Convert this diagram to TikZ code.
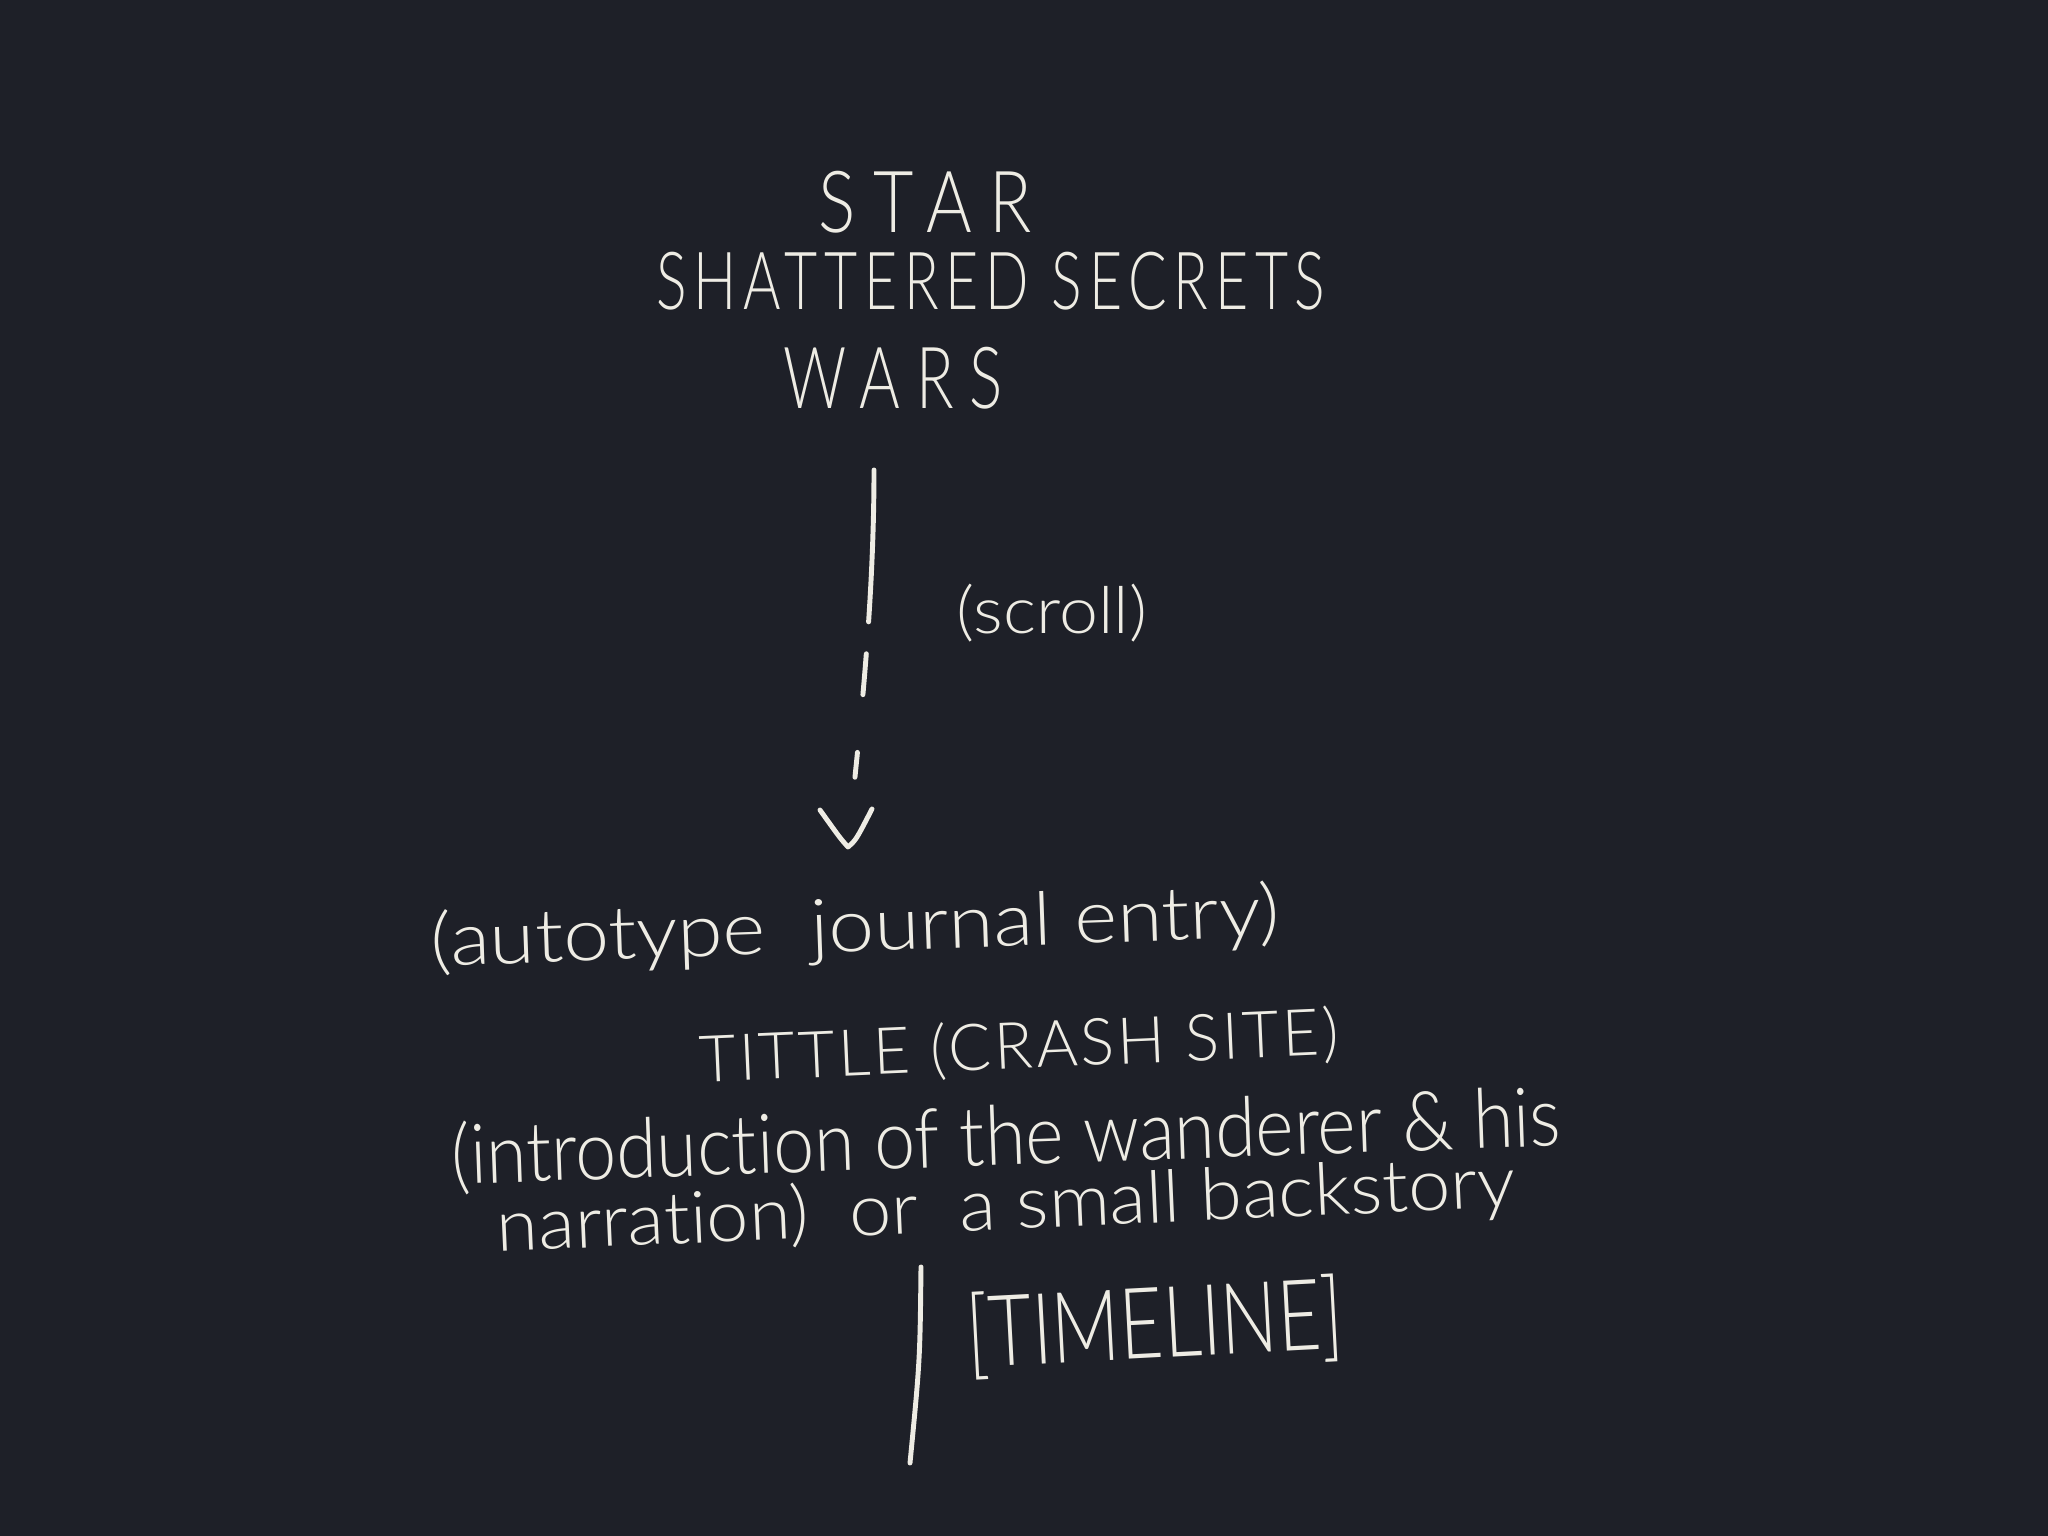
\documentclass[tikz,border=0pt]{standalone}
\usepackage{fontspec}
\setmainfont{Lato}[UprightFont=* Light, Ligatures=NoCommon]
\usepackage{graphicx}
\definecolor{bg}{RGB}{30,32,40}
\definecolor{ink}{RGB}{238,236,228}
\tikzset{
  hand/.style={text=ink, inner sep=0pt, anchor=center},
  pen/.style={draw=ink, line width=1.4pt, line cap=round, line join=round}
}
\newcommand{\fitbox}[3]{\resizebox*{#1}{#2}{#3}}
\begin{document}
\begin{tikzpicture}
\fill[bg] (0,0) rectangle (20.48,-15.36);
\useasboundingbox (0,0) rectangle (20.48,-15.36);

% title
\node[hand] (star) at (9.25,-2.02) {\fitbox{2.13cm}{0.62cm}{\addfontfeature{LetterSpace=25}STAR}};
\node[hand] (shattered) at (9.91,-2.81) {\fitbox{6.69cm}{0.58cm}{\addfontfeature{LetterSpace=12}SHATTERED SECRETS}};
\node[hand] (wars) at (8.93,-3.78) {\fitbox{2.19cm}{0.62cm}{\addfontfeature{LetterSpace=25}WARS}};

% scroll arrow
\coordinate (a1) at (8.74,-4.70);
\coordinate (a2) at (8.48,-8.47);
\coordinate (v1) at (8.20,-8.10);
\coordinate (v2) at (8.72,-8.09);
\draw[pen, dash pattern=on 1.52cm off 0.32cm on 0.41cm off 0.58cm on 0.25cm off 3cm] (a1) .. controls (8.74,-6.2) and (8.56,-7.6) .. (a2);
\draw[pen] (v1) .. controls (8.40,-8.38) .. (a2) .. controls (8.56,-8.40) .. (v2);
\node[hand] (scroll) at (10.52,-6.13) {\fitbox{1.9cm}{0.58cm}{(scroll)}};

% journal entry
\node[hand, rotate=2] (journal) at (8.55,-9.30) {\fitbox{8.49cm}{0.7cm}{(autotype~~journal entry)}};

% crash site
\node[hand, rotate=2.5] (tittle) at (10.19,-10.48) {\fitbox{6.40cm}{0.58cm}{\addfontfeature{LetterSpace=5}TITTLE (CRASH SITE)}};
\node[hand, rotate=2] (intro) at (10.06,-11.39) {\fitbox{11.10cm}{0.74cm}{(introduction of the wanderer \& his}};
\node[hand, rotate=2.5] (narr) at (10.06,-12.08) {\fitbox{10.19cm}{0.68cm}{narration)~ or~ a small backstory}};

% timeline
\coordinate (t1) at (9.21,-12.67);
\coordinate (t2) at (9.10,-14.63);
\draw[pen] (t1) .. controls (9.20,-13.6) .. (t2);
\node[hand, rotate=3] (timeline) at (11.55,-13.27) {\fitbox{3.77cm}{0.88cm}{[TIMELINE]}};
\end{tikzpicture}
\end{document}
